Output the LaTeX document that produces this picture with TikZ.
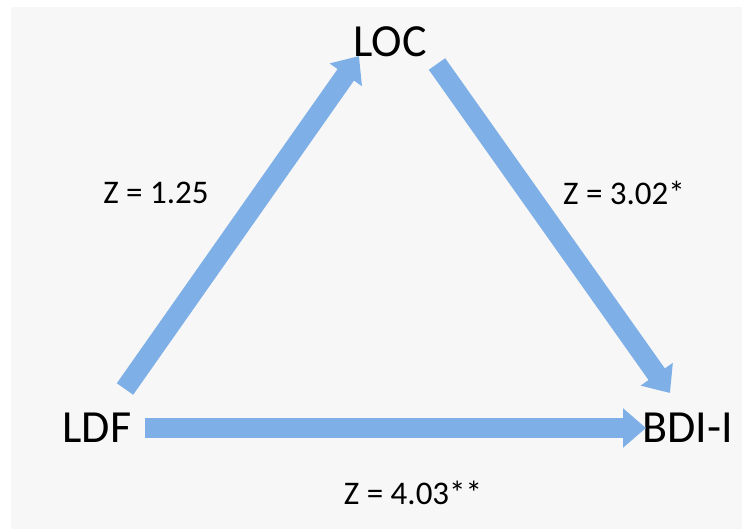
\documentclass[tikz,border=0pt]{standalone}
\usepackage{fontspec}
\setmainfont{Carlito}
\usetikzlibrary{arrows.meta}
\definecolor{bg}{RGB}{247,247,247}
\definecolor{arrowblue}{RGB}{126,175,231}
\begin{document}
\begin{tikzpicture}[x=1pt,y=-1pt,
  big/.style={font=\fontsize{46}{50}\selectfont, inner sep=0pt},
  lab/.style={font=\fontsize{33}{37}\selectfont, inner sep=0pt},
  blockarrow/.style={draw=arrowblue, line width=20pt, line cap=butt,
    -{Triangle[width=38pt,length=23pt]}}]
\useasboundingbox (0,0) rectangle (742,529);
\fill[white] (0,0) rectangle (742,529);
\fill[bg] (11,7) rectangle (742,529);
\node[big] (loc) at (390,42) {LOC};
\node[big] (ldf) at (97,428) {LDF};
\node[big, anchor=west] (bdi) at (642,428) {BDI-I};
\node[lab] (z1) at (156,193) {Z = 1.25};
\node[lab] (z2) at (624,193) {Z = 3.02*};
\node[lab] (z3) at (413,493) {Z = 4.03**};
\coordinate (a1s) at (125,389);
\coordinate (a1e) at (359,56);
\coordinate (a2s) at (437,64);
\coordinate (a2e) at (670,393);
\coordinate (a3s) at (145,428);
\coordinate (a3e) at (646,428);
\draw[blockarrow] (a1s) -- (a1e);
\draw[blockarrow] (a2s) -- (a2e);
\draw[blockarrow] (a3s) -- (a3e);
\end{tikzpicture}
\end{document}
